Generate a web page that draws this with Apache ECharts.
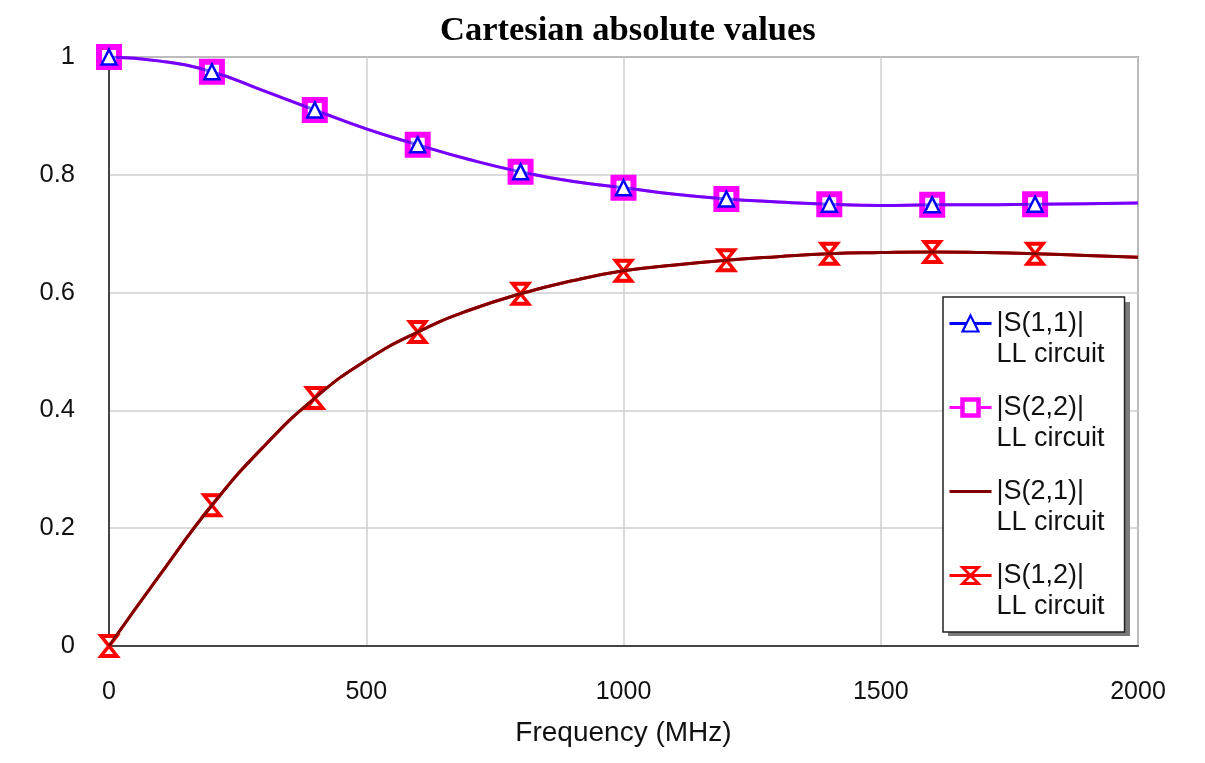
<!DOCTYPE html>
<html>
<head>
<meta charset="utf-8">
<script src="https://cdn.jsdelivr.net/npm/echarts@6/dist/echarts.min.js"></script>
<style>html,body{margin:0;padding:0;background:#fff}#c{width:1205px;height:763px}</style>
</head>
<body>
<div id="c"></div>
<script>
// Frequency (MHz)
const freq = [0,100,200,300,400,500,600,700,800,900,1000,1100,1200,1300,1400,1500,1600,1700,1800,1900,2000];
const s11 = [1.0,0.993,0.975,0.943,0.910,0.878,0.851,0.826,0.805,0.789,0.778,0.767,0.759,0.754,0.750,0.748,0.749,0.749,0.750,0.751,0.752];
const s22 = [1.0,0.993,0.975,0.943,0.910,0.878,0.851,0.826,0.805,0.789,0.778,0.767,0.759,0.754,0.750,0.748,0.749,0.749,0.750,0.751,0.752];
const s21 = [0.0,0.122,0.239,0.338,0.421,0.485,0.533,0.570,0.598,0.620,0.637,0.647,0.655,0.661,0.666,0.668,0.669,0.668,0.666,0.663,0.660];
const s12 = [0.0,0.122,0.239,0.338,0.421,0.485,0.533,0.570,0.598,0.620,0.637,0.647,0.655,0.661,0.666,0.668,0.669,0.668,0.666,0.663,0.660];
const seriesNames = ['|S(1,1)|\nLL circuit','|S(2,2)|\nLL circuit','|S(2,1)|\nLL circuit','|S(1,2)|\nLL circuit'];
const xTicks = [0,500,1000,1500,2000];
const yTicks = [0,0.2,0.4,0.6,0.8,1];
const markerStep = 200;

function build(vals, withMarkers) {
  return freq.map((f, i) => {
    const item = { value: [f, vals[i]] };
    if (!withMarkers || f % markerStep !== 0 || f >= 2000) item.symbol = 'none';
    return item;
  });
}

const hourglass = 'path://M0,0 L12,0 L6,8 L12,16 L0,16 L6,8 Z';
const FONT = 'Liberation Sans, Arial, sans-serif';

const chart = echarts.init(document.getElementById('c'), null, {renderer: 'canvas'});
chart.setOption({
  animation: false,
  backgroundColor: '#fff',
  title: {
    text: 'Cartesian absolute values',
    left: 435, top: 9,
    textStyle: { fontFamily: 'Liberation Serif, Times New Roman, serif', fontWeight: 'bold', fontSize: 34.5, color: '#000' }
  },
  graphic: [
    { type: 'rect', left: 948, top: 302, z: 3, silent: true,
      shape: { width: 182, height: 334 }, style: { fill: '#7a7a7a' } }
  ],
  grid: { left: 109, right: 67, top: 57, bottom: 117, show: true, borderColor: '#555', borderWidth: 1.5, backgroundColor: '#fff' },
  xAxis: {
    type: 'value', min: 0, max: 2000, interval: 500,
    name: 'Frequency (MHz)', nameLocation: 'middle', nameGap: 73,
    nameTextStyle: { fontFamily: FONT, fontSize: 28, color: '#111' },
    axisLine: { show: true, lineStyle: { color: '#444', width: 2 } },
    axisTick: { show: false },
    axisLabel: { fontFamily: FONT, fontSize: 25, color: '#111', margin: 34,
      formatter: v => xTicks.includes(v) ? String(v) : '' },
    splitLine: { show: true, lineStyle: { color: '#cfcfcf', width: 1.5 } }
  },
  yAxis: {
    type: 'value', min: 0, max: 1, interval: 0.2,
    axisLine: { show: true, lineStyle: { color: '#444', width: 2 } },
    axisTick: { show: false },
    axisLabel: { fontFamily: FONT, fontSize: 25.5, color: '#111', margin: 34,
      formatter: v => { const t = yTicks.find(y => Math.abs(y - v) < 1e-9); return t === undefined ? '' : String(t); } },
    splitLine: { show: true, lineStyle: { color: '#cfcfcf', width: 1.5 } }
  },
  legend: {
    orient: 'vertical', left: 943, top: 297, z: 4,
    data: [
      { name: seriesNames[0], itemStyle: { borderWidth: 2.2 } },
      { name: seriesNames[1], itemStyle: { borderWidth: 4.5 } },
      { name: seriesNames[2] },
      { name: seriesNames[3], itemStyle: { borderWidth: 2.8 } }
    ],
    formatter: name => '\n' + name,
    itemWidth: 42, itemHeight: 20, itemGap: -9,
    padding: [-20, 20, 10, 5],
    backgroundColor: '#fff', borderColor: '#222', borderWidth: 1.5,
    lineStyle: { opacity: 1, width: 3 },
    textStyle: { fontFamily: FONT, fontSize: 27, color: '#111', lineHeight: 31 },
    selectedMode: false
  },
  series: [
    { name: seriesNames[1], type: 'line', smooth: true, z: 2, data: build(s22, true),
      symbol: 'rect', symbolSize: 20,
      lineStyle: { color: '#ff00ff', width: 3 },
      itemStyle: { color: '#ffffff', borderColor: '#ff00ff', borderWidth: 6 } },
    { name: seriesNames[0], type: 'line', smooth: true, z: 3, data: build(s11, true),
      symbol: 'triangle', symbolSize: 15,
      lineStyle: { color: '#0000ff', width: 3, opacity: 0.55 },
      itemStyle: { color: '#ffffff', borderColor: '#0000ff', borderWidth: 2.5 } },
    { name: seriesNames[3], type: 'line', smooth: true, z: 2, data: build(s12, true),
      symbol: hourglass, symbolSize: [16, 20],
      lineStyle: { color: '#ff0000', width: 3 },
      itemStyle: { color: '#ffffff', borderColor: '#ff0000', borderWidth: 3.5 } },
    { name: seriesNames[2], type: 'line', smooth: true, z: 3, data: build(s21, false),
      symbol: 'none',
      lineStyle: { color: '#800000', width: 3 },
      itemStyle: { color: 'rgba(0,0,0,0)', borderColor: 'rgba(0,0,0,0)' } }
  ]
});
</script>
</body>
</html>
